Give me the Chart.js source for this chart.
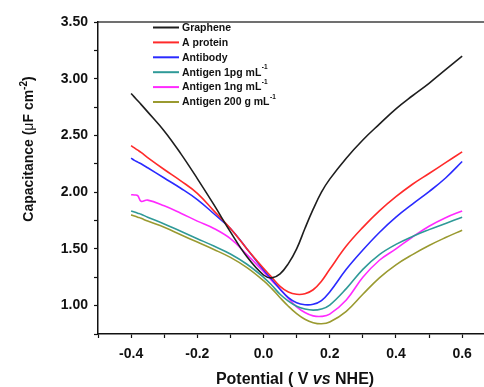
<!DOCTYPE html>
<html>
<head>
<meta charset="utf-8">
<script src="https://cdn.jsdelivr.net/npm/chart.js@4.4.1/dist/chart.umd.min.js"></script>
<style>
  html, body { margin: 0; padding: 0; background: #ffffff; }
  #wrap { width: 484px; height: 387px; position: relative; }
</style>
</head>
<body>
<div id="wrap"><canvas id="c" width="484" height="387"></canvas></div>
<script>
// ---- data ----
const potential = [-0.40,-0.39,-0.38,-0.37,-0.35,-0.30,-0.25,-0.20,-0.15,-0.10,-0.05,0.00,0.025,0.05,0.075,0.10,0.125,0.15,0.175,0.20,0.25,0.30,0.35,0.40,0.45,0.50,0.55,0.60];
const graphene  = [2.87,2.838,2.806,2.774,2.708,2.54,2.34,2.12,1.89,1.65,1.43,1.27,1.245,1.28,1.37,1.50,1.68,1.85,2.00,2.115,2.30,2.46,2.60,2.735,2.85,2.96,3.08,3.20];
const aProtein  = [2.41,2.39,2.37,2.35,2.305,2.20,2.10,1.99,1.835,1.68,1.50,1.33,1.25,1.17,1.12,1.10,1.105,1.14,1.215,1.32,1.525,1.69,1.835,1.96,2.07,2.165,2.26,2.355];
const antibody  = [2.30,2.28,2.265,2.25,2.215,2.125,2.035,1.935,1.81,1.68,1.50,1.315,1.23,1.145,1.07,1.025,1.008,1.012,1.045,1.12,1.32,1.49,1.645,1.78,1.895,2.005,2.125,2.27];
const antigen1pg = [1.835,1.825,1.815,1.805,1.78,1.72,1.655,1.59,1.525,1.455,1.365,1.25,1.18,1.10,1.04,0.995,0.97,0.96,0.97,1.005,1.15,1.32,1.45,1.54,1.61,1.67,1.725,1.78];
const antigen1ng = [1.978,1.975,1.97,1.92,1.93,1.88,1.815,1.745,1.68,1.59,1.45,1.30,1.22,1.145,1.065,0.99,0.94,0.91,0.905,0.925,1.05,1.25,1.40,1.50,1.605,1.70,1.775,1.835];
const antigen200 = [1.80,1.79,1.78,1.77,1.745,1.69,1.625,1.56,1.495,1.425,1.335,1.22,1.15,1.07,0.995,0.93,0.88,0.85,0.84,0.855,0.95,1.10,1.245,1.36,1.45,1.53,1.60,1.665];

const seriesNames = ['Graphene','A protein','Antibody','Antigen 1pg mL','Antigen 1ng mL','Antigen 200 g mL'];
const seriesSup   = ['', '', '', '-1', '-1', '-1'];
const seriesColors = ['#1e1e1e','#ff2a2a','#2a2aff','#2f9a98','#ff2aff','#9a9a30'];
const seriesValues = [graphene, aProtein, antibody, antigen1pg, antigen1ng, antigen200];

const xTicks = [-0.5,-0.4,-0.3,-0.2,-0.1,0.0,0.1,0.2,0.3,0.4,0.5,0.6];
const xLabelTicks = [-0.4,-0.2,0.0,0.2,0.4,0.6];
const yTicks = [0.75,1.00,1.25,1.50,1.75,2.00,2.25,2.50,2.75,3.00,3.25,3.50];
const yLabelTicks = [1.00,1.50,2.00,2.50,3.00,3.50];

const FONT = '"Liberation Sans", Arial, Helvetica, sans-serif';

const datasets = seriesValues.map((vals, i) => ({
  label: seriesNames[i],
  sup: seriesSup[i],
  data: potential.map((p, k) => ({ x: p, y: vals[k] })),
  borderColor: seriesColors[i],
  backgroundColor: seriesColors[i],
  borderWidth: 1.6,
  pointRadius: 0,
  fill: false,
  tension: 0.4
}));

const isIn = (arr, v) => arr.some(a => Math.abs(a - v) < 1e-6);

const legendPlugin = {
  id: 'insideLegend',
  afterDraw(chart) {
    const ctx = chart.ctx;
    ctx.save();
    const x0 = 153, x1 = 179, tx = 182;
    let y = 27.5;
    chart.data.datasets.forEach(ds => {
      ctx.strokeStyle = ds.borderColor;
      ctx.lineWidth = 2;
      ctx.beginPath(); ctx.moveTo(x0, y); ctx.lineTo(x1, y); ctx.stroke();
      ctx.fillStyle = '#111';
      ctx.font = 'bold 10.5px ' + FONT;
      ctx.textBaseline = 'middle';
      ctx.textAlign = 'left';
      ctx.fillText(ds.label, tx, y + 0.5);
      if (ds.sup) {
        const w = ctx.measureText(ds.label).width;
        ctx.font = 'bold 6.5px ' + FONT;
        ctx.fillText(ds.sup, tx + w + 0.5, y - 4.5);
      }
      y += 14.9;
    });
    ctx.restore();
  }
};

const titlePlugin = {
  id: 'axisTitles',
  afterDraw(chart) {
    const ctx = chart.ctx;
    const area = chart.chartArea;
    ctx.save();
    ctx.fillStyle = '#111';
    ctx.textBaseline = 'alphabetic';
    // x title with italic "vs"
    const parts = [
      { t: 'Potential ( V ', f: 'bold 16px ' + FONT },
      { t: 'vs', f: 'italic bold 16px ' + FONT },
      { t: ' NHE)', f: 'bold 16px ' + FONT }
    ];
    let total = 0;
    parts.forEach(p => { ctx.font = p.f; p.w = ctx.measureText(p.t).width; total += p.w; });
    let x = (area.left + area.right) / 2 + 4 - total / 2;
    parts.forEach(p => { ctx.font = p.f; ctx.fillText(p.t, x, 384); x += p.w; });

    // y title rotated
    const yparts = [
      { t: 'Capacitance (', f: 'bold 14px ' + FONT, dy: 0 },
      { t: 'μ', f: '14px ' + FONT, dy: 0 },
      { t: 'F cm', f: 'bold 14px ' + FONT, dy: 0 },
      { t: '-2', f: 'bold 10px ' + FONT, dy: -6 },
      { t: ')', f: 'bold 14px ' + FONT, dy: 0 }
    ];
    let ytotal = 0;
    yparts.forEach(p => { ctx.font = p.f; p.w = ctx.measureText(p.t).width; ytotal += p.w; });
    ctx.translate(33, 149);
    ctx.rotate(-Math.PI / 2);
    let yx = -ytotal / 2;
    yparts.forEach(p => { ctx.font = p.f; ctx.fillText(p.t, yx, p.dy); yx += p.w; });
    ctx.restore();
  }
};

new Chart(document.getElementById('c'), {
  type: 'line',
  data: { datasets },
  plugins: [legendPlugin, titlePlugin],
  options: {
    responsive: false,
    animation: false,
    layout: { padding: { top: 22, right: 0, left: 0, bottom: 0 } },
    plugins: { legend: { display: false }, tooltip: { enabled: false } },
    scales: {
      x: {
        type: 'linear',
        position: 'bottom',
        min: -0.5,
        max: 0.666,
        afterBuildTicks(scale) { scale.ticks = xTicks.map(v => ({ value: v })); },
        afterFit(scale) { scale.height = 53; },
        ticks: {
          color: '#111',
          font: { family: FONT, size: 14, weight: 'bold' },
          padding: 8,
          maxRotation: 0,
          autoSkip: false,
          callback(v) { return isIn(xLabelTicks, v) ? v.toFixed(1) : ''; }
        },
        grid: {
          drawOnChartArea: false,
          drawTicks: true,
          tickLength: 4,
          tickColor: '#111',
          tickWidth: 1.2
        },
        border: { display: true, color: '#111', width: 1.5 }
      },
      xTop: {
        type: 'linear',
        position: 'top',
        min: -0.5,
        max: 0.666,
        afterFit(scale) { scale.height = 0; },
        ticks: { display: false },
        grid: { display: true, drawOnChartArea: false, drawTicks: false },
        border: { display: true, color: '#707070', width: 2 }
      },
      y: {
        type: 'linear',
        min: 0.75,
        max: 3.5,
        afterBuildTicks(scale) { scale.ticks = yTicks.map(v => ({ value: v })); },
        afterFit(scale) { scale.width = 98; },
        ticks: {
          color: '#111',
          font: { family: FONT, size: 14, weight: 'bold' },
          padding: 6,
          autoSkip: false,
          callback(v) { return isIn(yLabelTicks, v) ? v.toFixed(2) : ''; }
        },
        grid: {
          drawOnChartArea: false,
          drawTicks: true,
          tickLength: 4,
          tickColor: '#111',
          tickWidth: 1.2
        },
        border: { display: true, color: '#111', width: 1.5 }
      }
    }
  }
});
</script>
</body>
</html>
